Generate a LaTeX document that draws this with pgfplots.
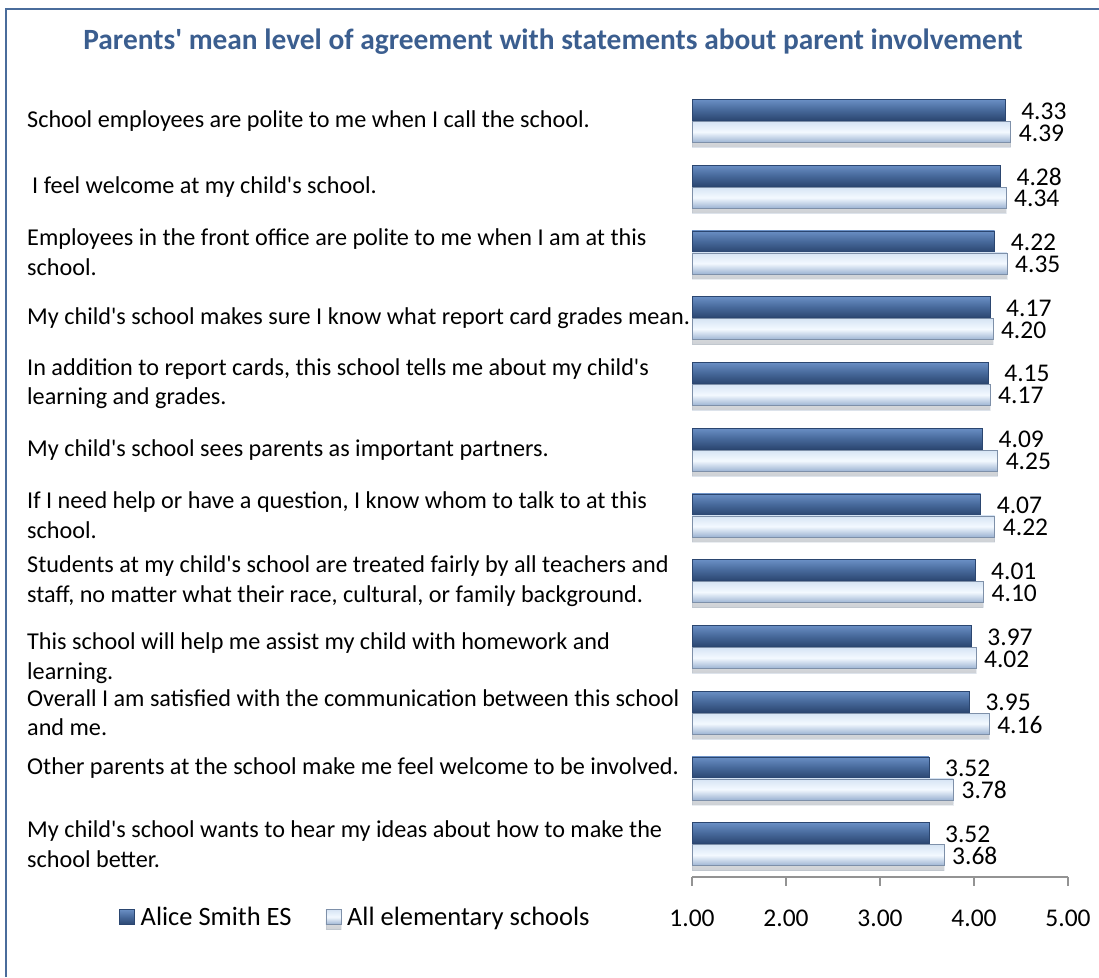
\documentclass[border=0pt]{standalone}
\usepackage{fontspec}
\setmainfont{Carlito}
\usepackage{pgfplots}
\pgfplotsset{compat=1.18}
\definecolor{framec}{HTML}{4A6C9B}
\definecolor{titlec}{HTML}{3B5E8F}
\definecolor{dtop}{HTML}{6A8FC4}
\definecolor{dmid}{HTML}{47699B}
\definecolor{dbot}{HTML}{2B4670}
\definecolor{ltop}{HTML}{D6E4F4}
\definecolor{lmid}{HTML}{F3F9FF}
\definecolor{lbot}{HTML}{9DB4D3}
\newcommand\q{\textquotesingle}
\pgfplotsset{
  darkbar/.style={bar shift=11pt, draw=dbot, line width=0.5pt,
     top color=dtop, bottom color=dbot, middle color=dmid,
     every node near coord/.append style={xshift=16pt}},
  lightbar/.style={bar shift=-11pt, draw=lbot!80!black, line width=0.5pt,
     top color=ltop, bottom color=lbot, middle color=lmid,
     preaction={fill=black, opacity=0.16, transform canvas={yshift=-5pt}},
     every node near coord/.append style={xshift=8pt}},
}
\begin{document}
\begin{tikzpicture}[x=1pt,y=1pt]
\path[use as bounding box] (0,0) rectangle (1099,977);
\draw[framec, line width=2.5pt] (6,0) -- (6,968) -- (1099,968);
\node[font=\bfseries\fontsize{29.4}{35}\selectfont, text=titlec] at (553,935) {Parents\q{} mean level of agreement with statements about parent involvement};
\begin{axis}[
  at={(692pt,100pt)}, anchor=south west, scale only axis,
  width=376pt, height=789pt,
  xbar, bar width=21pt,
  xmin=1, xmax=5, ymin=-0.5, ymax=11.5,
  xtick={1,2,3,4,5},
  ytick={0,1.15,2,2.83,4,5,6,7,8,9,10,11},
  axis x line*=bottom, axis y line*=left,
  y axis line style={draw=none},
  x axis line style={draw=gray!85, line width=1.5pt},
  tick align=outside,
  major tick length=9pt,
  xtick style={draw=gray!85, line width=1.5pt},
  ytick style={draw=none},
  /pgf/number format/assume math mode=true,
  xticklabel style={/pgf/number format/.cd, fixed, fixed zerofill, precision=2, /tikz/.cd,
     font=\fontsize{25.5}{31}\selectfont, anchor=north, inner sep=0pt, yshift=-24pt},
  yticklabel style={font=\fontsize{24.2}{29.5}\selectfont, anchor=west, align=left, inner sep=0pt, xshift=-656pt},
  yticklabels={
    {My child\q{}s school wants to hear my ideas about how to make the\\school better.},
    {Other parents at the school make me feel welcome to be involved.},
    {Overall I am satisfied with the communication between this school\\and me.},
    {This school will help me assist my child with homework and\\learning.},
    {Students at my child\q{}s school are treated fairly by all teachers and\\staff, no matter what their race, cultural, or family background.},
    {If I need help or have a question, I know whom to talk to at this\\school.},
    {My child\q{}s school sees parents as important partners.},
    {In addition to report cards, this school tells me about my child\q{}s\\learning and grades.},
    {My child\q{}s school makes sure I know what report card grades mean.},
    {Employees in the front office are polite to me when I am at this\\school.},
    {\hspace*{5pt}I feel welcome at my child\q{}s school.},
    {School employees are polite to me when I call the school.}
  },
  point meta=x,
  nodes near coords={\pgfmathprintnumber[fixed,fixed zerofill,precision=2]{\pgfplotspointmeta}},
  every node near coord/.append style={font=\fontsize{25.5}{31}\selectfont, anchor=west, inner sep=0pt, text=black, yshift=-1pt},
  legend style={at={(-1.524,-0.0507)}, anchor=west, draw=none, fill=none,
     font=\fontsize{26.5}{31}\selectfont, inner sep=0pt,
     /tikz/every odd column/.append style={column sep=4pt},
     /tikz/every even column/.append style={column sep=32pt}},
  legend columns=2,
]
\addplot[darkbar, legend image code/.code={\path[draw=dbot, line width=0.5pt, top color=dtop, bottom color=dbot, middle color=dmid] (0pt,-7.5pt) rectangle (15pt,7.5pt);}] coordinates {(4.33,11)};
\addlegendentry{Alice Smith ES}
\addplot[lightbar, legend image code/.code={\path[draw=lbot!80!black, line width=0.5pt, top color=ltop, bottom color=lbot, middle color=lmid] (0pt,-7.5pt) rectangle (15pt,7.5pt);}] coordinates {(4.39,11)};
\addlegendentry{All elementary schools}
\addplot[darkbar, forget plot] coordinates {(4.28,10)};
\addplot[lightbar, forget plot] coordinates {(4.34,10)};
\addplot[darkbar, forget plot] coordinates {(4.22,9)};
\addplot[lightbar, forget plot] coordinates {(4.35,9)};
\addplot[darkbar, forget plot] coordinates {(4.17,8)};
\addplot[lightbar, forget plot] coordinates {(4.20,8)};
\addplot[darkbar, forget plot] coordinates {(4.15,7)};
\addplot[lightbar, forget plot] coordinates {(4.17,7)};
\addplot[darkbar, forget plot] coordinates {(4.09,6)};
\addplot[lightbar, forget plot] coordinates {(4.25,6)};
\addplot[darkbar, forget plot] coordinates {(4.07,5)};
\addplot[lightbar, forget plot] coordinates {(4.22,5)};
\addplot[darkbar, forget plot] coordinates {(4.01,4)};
\addplot[lightbar, forget plot] coordinates {(4.10,4)};
\addplot[darkbar, forget plot] coordinates {(3.97,3)};
\addplot[lightbar, forget plot] coordinates {(4.02,3)};
\addplot[darkbar, forget plot] coordinates {(3.95,2)};
\addplot[lightbar, forget plot] coordinates {(4.16,2)};
\addplot[darkbar, forget plot] coordinates {(3.52,1)};
\addplot[lightbar, forget plot] coordinates {(3.78,1)};
\addplot[darkbar, forget plot] coordinates {(3.52,0)};
\addplot[lightbar, forget plot] coordinates {(3.68,0)};
\end{axis}
\end{tikzpicture}
\end{document}
